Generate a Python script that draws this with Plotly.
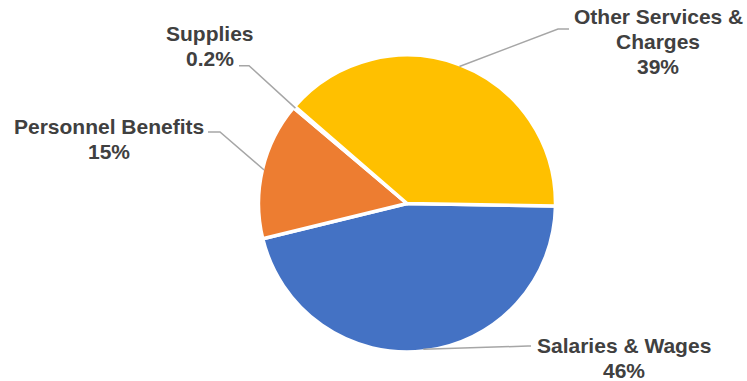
import math
import plotly.graph_objects as go

# Budget share by expense category
categories = ["Salaries & Wages", "Personnel Benefits", "Supplies", "Other Services & Charges"]
category_lines = [["Salaries & Wages"], ["Personnel Benefits"], ["Supplies"], ["Other Services &", "Charges"]]
values = [46, 15, 0.2, 39]
colors = ["#4472C4", "#ED7D31", "#A5A5A5", "#FFC000"]

W, H = 747, 381
CX, CY, R = 407, 203.5, 148.5      # pie centre and radius in pixels
ROTATION = 91                      # start of first slice, degrees clockwise from 12 o'clock
BORDER = 3.5
TEXT_COLOR = "#404040"
LEADER_COLOR = "#A6A6A6"
FONT_SIZE = 21
LINE_GAP = 25

# Label placement (pixels): text centre x, first-line centre y, leader knee and end
label_place = [
    dict(x=623.5, y=345, knee=(528, 346), end=(531, 346)),
    dict(x=108.5, y=126, knee=(220, 132), end=(208, 132)),
    dict(x=210, y=33.5, knee=(249, 65.7), end=(239, 65.7)),
    dict(x=658, y=16.8, knee=(558, 29), end=(569, 29)),
]


def px(x):
    return x / W


def py(y):
    return 1 - y / H


fig = go.Figure(
    go.Pie(
        labels=categories,
        values=values,
        sort=False,
        direction="clockwise",
        rotation=ROTATION,
        textinfo="none",
        hoverinfo="label+percent",
        showlegend=False,
        marker=dict(colors=colors, line=dict(color="white", width=BORDER)),
        domain=dict(x=[px(CX - R), px(CX + R)], y=[py(CY + R), py(CY - R)]),
    )
)

total = sum(values)
edge_r = R - BORDER / 2
annotations = []
shapes = []
cum = 0.0
for name_lines, v, place in zip(category_lines, values, label_place):
    mid = math.radians(ROTATION + (cum + v / 2) / total * 360)
    cum += v
    ex = CX + edge_r * math.sin(mid)
    ey = CY - edge_r * math.cos(mid)
    kx, ky = place["knee"]
    tx, ty = place["end"]
    shapes.append(dict(
        type="path", xref="paper", yref="paper",
        path=f"M {px(ex)},{py(ey)} L {px(kx)},{py(ky)} L {px(tx)},{py(ty)}",
        line=dict(color=LEADER_COLOR, width=1.5),
    ))
    lines = name_lines + [f"{v:g}%"]
    for i, text in enumerate(lines):
        annotations.append(dict(
            text=f"<b>{text}</b>", x=px(place["x"]), y=py(place["y"] + i * LINE_GAP),
            xref="paper", yref="paper", xanchor="center", yanchor="middle",
            showarrow=False,
            font=dict(family="Liberation Sans, Arial, sans-serif", size=FONT_SIZE, color=TEXT_COLOR),
        ))

fig.update_layout(
    width=W, height=H, autosize=False,
    margin=dict(l=0, r=0, t=0, b=0),
    paper_bgcolor="white", plot_bgcolor="white",
    annotations=annotations, shapes=shapes,
)

fig.write_html("out.html")
